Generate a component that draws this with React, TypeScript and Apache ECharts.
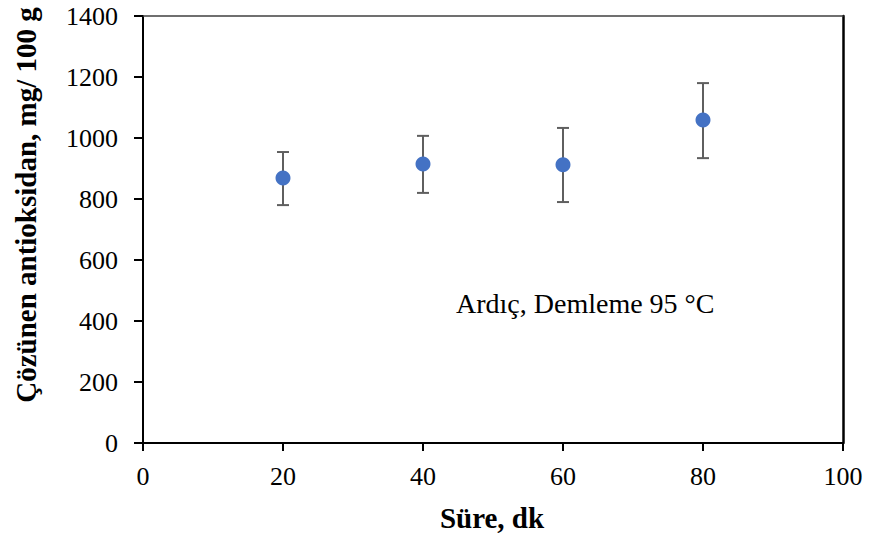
import React, { useEffect, useRef } from "react";
import * as echarts from "echarts";

const times: number[] = [20, 40, 60, 80];
const meanValues: number[] = [869, 915, 912, 1059];
const lowValues: number[] = [780, 820, 790, 934];
const highValues: number[] = [954, 1007, 1033, 1180];
const yTitle = "Çözünen antioksidan, mg/ 100 g";
const xTitle = "Süre, dk";
const annotation = "Ardıç, Demleme 95 °C";

const FONT = "'Liberation Serif', 'Times New Roman', serif";

export default function App() {
  const ref = useRef<HTMLDivElement>(null);
  useEffect(() => {
    if (!ref.current) return;
    const chart = echarts.init(ref.current, undefined, { renderer: "svg" });
    const points = times.map((t, i) => [t, meanValues[i]]);
    const errs = times.map((t, i) => [t, lowValues[i], highValues[i]]);
    chart.setOption({
      animation: false,
      backgroundColor: "#ffffff",
      grid: { left: 143, right: 26, top: 16, bottom: 97, containLabel: false },
      xAxis: [
        {
          type: "value",
          min: 0,
          max: 100,
          interval: 20,
          axisLine: { show: true, onZero: false, lineStyle: { color: "#000", width: 2 } },
          axisTick: { show: true, inside: false, length: 8, lineStyle: { color: "#000", width: 2 } },
          axisLabel: { fontFamily: FONT, fontSize: 26, color: "#000", margin: 20, formatter: (v: number) => String(v) },
          splitLine: { show: false },
        },
        {
          type: "value",
          position: "top",
          min: 0,
          max: 100,
          axisLine: { show: true, onZero: false, lineStyle: { color: "#404040", width: 1.5 } },
          axisTick: { show: false },
          axisLabel: { show: false },
          splitLine: { show: false },
        },
      ],
      yAxis: [
        {
          type: "value",
          min: 0,
          max: 1400,
          interval: 200,
          axisLine: { show: true, onZero: false, lineStyle: { color: "#000", width: 2 } },
          axisTick: { show: true, inside: false, length: 9, lineStyle: { color: "#000", width: 2 } },
          axisLabel: { fontFamily: FONT, fontSize: 26, color: "#000", margin: 25, formatter: (v: number) => String(v) },
          splitLine: { show: false },
        },
        {
          type: "value",
          position: "right",
          min: 0,
          max: 1400,
          axisLine: { show: true, onZero: false, lineStyle: { color: "#000", width: 2.5 } },
          axisTick: { show: false },
          axisLabel: { show: false },
          splitLine: { show: false },
        },
      ],
      series: [
        {
          type: "custom",
          data: errs,
          z: 2,
          renderItem: (params: any, api: any) => {
            const x = api.value(0);
            const lo = api.coord([x, api.value(1)]);
            const hi = api.coord([x, api.value(2)]);
            const w = 6;
            const style = { stroke: "#5f5f5f", lineWidth: 2 };
            return {
              type: "group",
              children: [
                { type: "line", shape: { x1: lo[0], y1: lo[1], x2: hi[0], y2: hi[1] }, style },
                { type: "line", shape: { x1: lo[0] - w, y1: lo[1], x2: lo[0] + w, y2: lo[1] }, style },
                { type: "line", shape: { x1: hi[0] - w, y1: hi[1], x2: hi[0] + w, y2: hi[1] }, style },
              ],
            };
          },
        },
        {
          type: "scatter",
          data: points,
          symbol: "circle",
          symbolSize: 15,
          z: 3,
          itemStyle: { color: "#4472C4", opacity: 1 },
        },
      ],
      graphic: [
        {
          type: "text",
          x: 26,
          y: 205,
          rotation: Math.PI / 2,
          style: {
            text: yTitle,
            fontFamily: FONT,
            fontSize: 29,
            fontWeight: "bold",
            fill: "#000",
            align: "center",
            verticalAlign: "middle",
          },
        },
        {
          type: "text",
          x: 492,
          y: 518,
          style: {
            text: xTitle,
            fontFamily: FONT,
            fontSize: 29,
            fontWeight: "bold",
            fill: "#000",
            align: "center",
            verticalAlign: "middle",
          },
        },
        {
          type: "text",
          x: 456,
          y: 303,
          style: {
            text: annotation,
            fontFamily: FONT,
            fontSize: 28,
            fill: "#000",
            align: "left",
            verticalAlign: "middle",
          },
        },
      ],
    });
    return () => chart.dispose();
  }, []);
  return (
    <div
      ref={ref}
      style={{ position: "absolute", left: 0, top: 0, width: 869, height: 540 }}
    />
  );
}
